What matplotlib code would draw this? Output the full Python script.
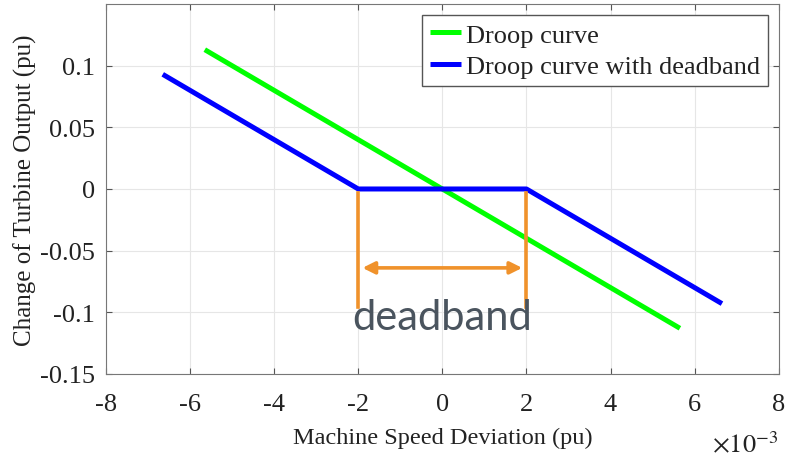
import numpy as np
import matplotlib.pyplot as plt

plt.rcParams['font.family'] = ['Liberation Serif', 'DejaVu Serif']
plt.rcParams['mathtext.fontset'] = 'stix'

# data (x in pu, plotted against x10^-3 axis)
droop_x = [-5.65e-3, 5.65e-3]
droop_y = [0.113, -0.113]
db_x = [-6.65e-3, -2e-3, 2e-3, 6.65e-3]
db_y = [0.093, 0.0, 0.0, -0.093]
band_edges = [-2e-3, 2e-3]
band_bottom = -0.096
arrow_y = -0.064

xticks = np.arange(-8, 9, 2)
yticks = [-0.15, -0.1, -0.05, 0, 0.05, 0.1]
ytick_labels = ['-0.15', '-0.1', '-0.05', '0', '0.05', '0.1']

fig = plt.figure(figsize=(7.85, 4.6), dpi=100)
ax = fig.add_axes([0.135, 0.185, 0.857, 0.804])

ax.plot(droop_x, droop_y, color='#00ff00', lw=3.6, label='Droop curve', solid_capstyle='butt')
ax.plot(db_x, db_y, color='#0000ff', lw=3.6, label='Droop curve with deadband', solid_capstyle='butt')

orange = '#f0922b'
for xe in band_edges:
    ax.plot([xe, xe], [-0.003, band_bottom], color=orange, lw=2.6)
ax.annotate('', xy=(band_edges[0] + 0.1e-3, arrow_y), xytext=(band_edges[1] - 0.1e-3, arrow_y),
            arrowprops=dict(arrowstyle='<|-|>', color=orange, lw=2.6, mutation_scale=18,
                            shrinkA=0, shrinkB=0))
ax.text(0, -0.1135, 'deadband', family=['Lato', 'DejaVu Sans'], fontsize=30, color='#4a545e',
        ha='center', va='baseline')

ax.set_xlim(-8e-3, 8e-3)
ax.set_ylim(-0.15, 0.15)
ax.set_xticks(xticks * 1e-3)
ax.set_xticklabels([str(v) for v in xticks])
ax.set_yticks(yticks)
ax.set_yticklabels(ytick_labels)
ax.tick_params(direction='in', top=True, right=True, labelsize=19, color='#555555',
               labelcolor='#222222', length=4)
ax.tick_params(axis='x', pad=14)
ax.tick_params(axis='y', pad=8)
ax.grid(True, color='#e6e6e6', lw=0.8)
ax.set_axisbelow(True)
for s in ax.spines.values():
    s.set_color('#777777')

ax.set_xlabel('Machine Speed Deviation (pu)', fontsize=17.5, labelpad=8, color='#222222')
ax.set_ylabel('Change of Turbine Output (pu)', fontsize=18, labelpad=2, color='#222222')
fig.text(0.949, 0.033, r'$\times10^{-3}$', fontsize=19, ha='center', va='center', color='#222222')

leg = ax.legend(loc='upper right', fontsize=19, handlelength=1.15, handletextpad=0.2,
                borderpad=0.3, labelspacing=0.3, fancybox=False, framealpha=1,
                borderaxespad=0, bbox_to_anchor=(0.984, 0.97))
leg.get_frame().set_edgecolor('#555555')
for t in leg.get_texts():
    t.set_color('#222222')

fig.savefig('out.png', dpi=100)
